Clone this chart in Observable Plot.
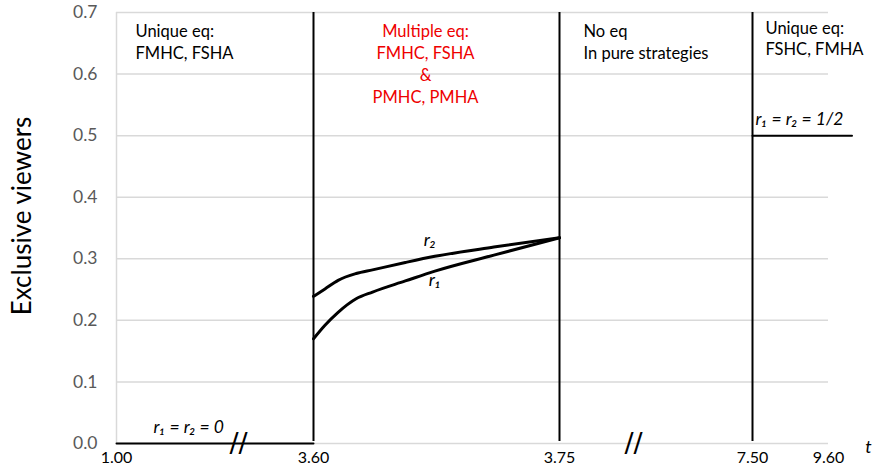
<!DOCTYPE html>
<html><head><meta charset="utf-8">
<script src="https://cdn.jsdelivr.net/npm/d3@7"></script>
<script src="https://cdn.jsdelivr.net/npm/@observablehq/plot@0.6"></script>
<style>body{margin:0;background:#fff;font-family:Lato,sans-serif}</style>
</head><body><div id="chart"></div>
<script>
// broken x axis: tick values
const tTicks = [1.00, 3.60, 3.75, 7.50, 9.60];
const yTicks = [0, 0.1, 0.2, 0.3, 0.4, 0.5, 0.6, 0.7];
// region boundaries (vertical lines)
const boundaries = [3.60, 3.75, 7.50];
// curves in the multiple-equilibria region
const tCurve = [3.600, 3.607, 3.615, 3.626, 3.636, 3.656, 3.674, 3.710, 3.750];
const r1Vals = [0.170, 0.192, 0.213, 0.235, 0.246, 0.264, 0.280, 0.306, 0.334];
const r2Vals = [0.239, 0.251, 0.265, 0.276, 0.282, 0.294, 0.304, 0.319, 0.334];
// flat segments
const zeroSeg = [{t: 1.00, v: 0}, {t: 3.60, v: 0}];
const halfSeg = [{t: 7.50, v: 0.5}, {t: 10.25, v: 0.5}];
// axis break markers
const breaks = [2.61, 5.19];
const regionText = [
  "Unique eq:\nFMHC, FSHA",
  "Multiple eq:\nFMHC, FSHA\n&\nPMHC, PMHA",
  "No eq\nIn pure strategies",
  "Unique eq:\nFSHC, FMHA"
];

const r1 = tCurve.map((t, i) => ({t, v: r1Vals[i]}));
const r2 = tCurve.map((t, i) => ({t, v: r2Vals[i]}));

const font = "Lato, sans-serif";
const fs = 16.5;
const chart = Plot.plot({
  width: 876, height: 471,
  marginLeft: 116, marginRight: 48, marginTop: 12, marginBottom: 28,
  style: {fontFamily: font, color: "#000", background: "#fff", overflow: "visible"},
  x: {type: "linear", domain: tTicks, range: [116, 313, 559, 752, 828]},
  y: {domain: [0, 0.7]},
  marks: [
    Plot.ruleY(yTicks, {x1: 1.00, x2: 9.60, stroke: "#d9d9d9", strokeWidth: 1.5}),
    Plot.ruleX([1.00], {y1: 0, y2: 0.7, stroke: "#d9d9d9", strokeWidth: 1.5}),
    Plot.axisY({ticks: yTicks, tickSize: 0, tickPadding: 19, tickFormat: d3.format(".1f"), fill: "#595959", fontSize: 17.5, label: null}),
    Plot.axisX({ticks: tTicks, tickSize: 0, tickPadding: 8, tickFormat: d3.format(".2f"), fill: "#000", fontSize: 16, label: null}),
    Plot.text(["Exclusive viewers"], {frameAnchor: "left", textAnchor: "middle", dx: -94, dy: -12, rotate: -90, fontSize: 26, fill: "#000"}),
    Plot.text(["t"], {x: 9.60, y: 0, dx: 40, dy: 4, fontSize: 18, fontStyle: "italic", fill: "#000"}),
    Plot.ruleX(boundaries, {y1: 0, y2: 0.7, stroke: "#000", strokeWidth: 2, insetTop: -2}),
    Plot.line(zeroSeg, {x: "t", y: "v", stroke: "#000", strokeWidth: 2}),
    Plot.line(halfSeg, {x: "t", y: "v", stroke: "#000", strokeWidth: 2}),
    Plot.line(r1, {x: "t", y: "v", stroke: "#000", strokeWidth: 3, curve: "monotone-x"}),
    Plot.line(r2, {x: "t", y: "v", stroke: "#000", strokeWidth: 3, curve: "monotone-x"}),
    Plot.text(breaks, {x: d => d, y: 0, text: () => "//", fontSize: 27, fontFamily: "DejaVu Sans", fill: "#000", dy: 0}),
    Plot.text([regionText[0]], {x: 1.00, y: 0.7, dx: 19, dy: 9, textAnchor: "start", lineAnchor: "top", lineHeight: 1.33, fontSize: fs, fill: "#000"}),
    Plot.text([regionText[1]], {x: 3.675, y: 0.7, dx: -11, dy: 9, textAnchor: "middle", lineAnchor: "top", lineHeight: 1.33, fontSize: fs, fill: "#ee0000"}),
    Plot.text([regionText[2]], {x: 3.75, y: 0.7, dx: 24, dy: 9, textAnchor: "start", lineAnchor: "top", lineHeight: 1.33, fontSize: fs, fill: "#000"}),
    Plot.text([regionText[3]], {x: 7.50, y: 0.7, dx: 13, dy: 6, textAnchor: "start", lineAnchor: "top", lineHeight: 1.28, fontSize: fs, fill: "#000"}),
    Plot.text(["r₁ = r₂ = 1/2"], {x: 7.50, y: 0.5, dx: 3, dy: -16, textAnchor: "start", fontSize: 17.5, fontStyle: "italic", fill: "#000"}),
    Plot.text(["r₁ = r₂ = 0"], {x: 1.00, y: 0, dx: 37, dy: -16, textAnchor: "start", fontSize: 17.5, fontStyle: "italic", fill: "#000"}),
    Plot.text(["r₂"], {x: 3.671, y: 0.330, fontSize: 18, fontStyle: "italic", fill: "#000"}),
    Plot.text(["r₁"], {x: 3.674, y: 0.265, fontSize: 18, fontStyle: "italic", fill: "#000"})
  ]
});
document.getElementById("chart").append(chart);
</script>
</body></html>
